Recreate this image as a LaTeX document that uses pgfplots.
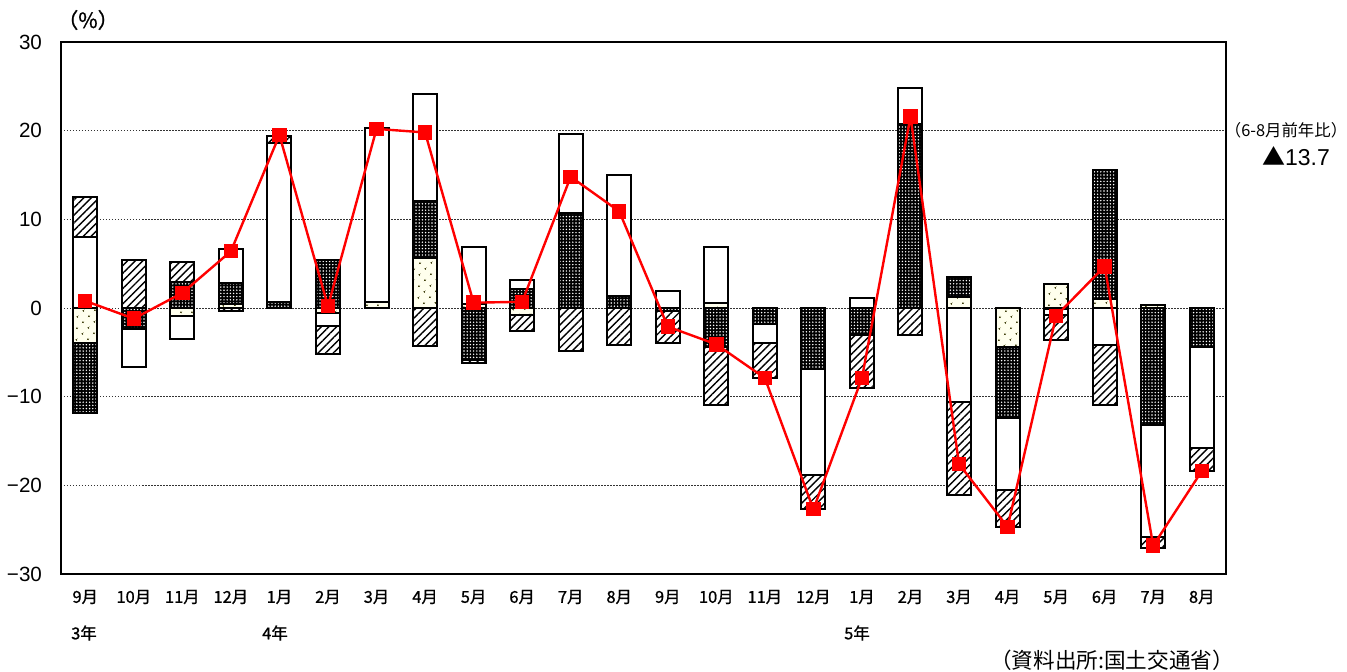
\documentclass[border=0pt]{standalone}
\usepackage{fontspec}
\setmainfont{Liberation Sans}
\newfontfamily\jp{Noto Sans CJK JP}
\newfontfamily\jpb[FakeBold=1]{Noto Sans CJK JP}
\usepackage{pgfplots}
\pgfplotsset{compat=1.18}
\usepackage{pgfplotstable}
\usetikzlibrary{patterns.meta}

\definecolor{ivory}{rgb}{1,1,0.93}
\definecolor{olivedot}{rgb}{0.25,0.25,0.05}
\definecolor{gridgray}{rgb}{0.2,0.2,0.2}

% A: light dots, B: dark dots, C: white, D: hatched, T: total (line)
\pgfplotstableread{
x  A     B      C      D      T
0  -4.0  -7.8   8.0    4.5    0.8
1  0     -2.4   -4.2   5.4    -1.2
2  -0.9  2.9    -2.6   2.3    1.7
3  0.4   2.4    3.8    -0.3   6.4
4  0     0.7    17.9   0.8    19.5
5  -0.6  5.4    -1.4   -3.2   0.2
6  0.7   0      19.6   0      20.2
7  5.6   6.5    12.0   -4.3   19.8
8  0.4   -5.9   6.5    -0.3   0.6
9  -0.8  2.1    1.1    -1.8   0.7
10 0     10.7   8.9    -4.8   14.8
11 0     1.4    13.6   -4.2   10.9
12 0     -0.3   1.9    -3.7   -2.1
13 0.6   -4.4   6.3    -6.5   -4.1
14 0     -1.8   -2.2   -3.9   -7.9
15 0     -6.9   -11.9  -3.9   -22.7
16 0     -3.1   1.1    -5.9   -7.9
17 0     20.8   4.0    -3.1   21.6
18 1.2   2.3    -10.6  -10.5  -17.6
19 -4.4  -8.0   -8.1   -4.2   -24.7
20 2.7   -0.1   -0.7   -2.8   -0.9
21 1.0   14.6   -4.2   -6.7   4.7
22 0.3   -13.2  -12.6  -1.3   -26.8
23 0     -4.4   -11.4  -2.6   -18.4
}\housing

\pgfplotsset{
  base/.style={
    width=582.5pt, height=266pt, scale only axis,
    xmin=-0.5, xmax=23.5, ymin=-30, ymax=30,
    at={(0,0)}, anchor=south west, clip=false,
  },
  barA/.style={draw=black, line width=1pt, fill=ivory,
    postaction={pattern={Dots[radius=0.55pt,distance=4pt,angle=45]}, pattern color=olivedot}},
  barB/.style={draw=black, line width=1pt, fill=black,
    postaction={pattern={Dots[radius=0.4pt,distance=1.6pt]}, pattern color=white}},
  barC/.style={draw=black, line width=1pt, fill=white},
  barD/.style={draw=black, line width=1pt, fill=white,
    postaction={pattern={Lines[angle=45,distance=2.7pt,line width=0.7pt]}, pattern color=black}},
}

\begin{document}
\begin{tikzpicture}
\useasboundingbox (-30.5pt,-48.5pt) rectangle (643pt,287pt);

% positive parts, with frame and grid
\begin{axis}[base,
  ybar stacked, bar width=12pt,
  axis line style={line width=1pt},
  major tick length=0pt,
  ytick={-30,-20,...,30},
  yticklabels={−30,−20,−10,0,10,20,30},
  yticklabel style={font=\fontsize{10.3}{12}\selectfont, anchor=east, xshift=-6pt},
  xtick={0,...,23},
  xticklabels={9月,10月,11月,12月,1月,2月,3月,4月,5月,6月,7月,8月,9月,10月,11月,12月,1月,2月,3月,4月,5月,6月,7月,8月},
  xticklabel style={font=\jpb\fontsize{8.2}{9}\selectfont, anchor=center, yshift=-11.5pt},
  ymajorgrids,
  grid style={gridgray, line width=0.5pt, dash pattern=on 0.75pt off 0.75pt},
]
\addplot[barA] table[x=x, y expr={max(\thisrow{A},0)}] {\housing};
\addplot[barB] table[x=x, y expr={max(\thisrow{B},0)}] {\housing};
\addplot[barC] table[x=x, y expr={max(\thisrow{C},0)}] {\housing};
\addplot[barD] table[x=x, y expr={max(\thisrow{D},0)}] {\housing};
\end{axis}

% negative parts
\begin{axis}[base, hide axis, ybar stacked, bar width=12pt]
\addplot[barA] table[x=x, y expr={min(\thisrow{A},0)}] {\housing};
\addplot[barB] table[x=x, y expr={min(\thisrow{B},0)}] {\housing};
\addplot[barC] table[x=x, y expr={min(\thisrow{C},0)}] {\housing};
\addplot[barD] table[x=x, y expr={min(\thisrow{D},0)}] {\housing};
\end{axis}

% total line
\begin{axis}[base, hide axis]
\addplot[red, line width=1.2pt, mark=square*, mark size=3pt,
  mark options={solid, fill=red, draw=red}] table[x=x, y=T] {\housing};
\end{axis}

\node[font=\jpb\fontsize{10.5}{11}\selectfont] at (13.5pt,277pt) {（\%）};
\node[font=\jp\fontsize{8.2}{9}\selectfont, inner sep=0pt] at (612.5pt,222pt) {（6-8月前年比）};
\node[font=\fontsize{11.5}{13}\selectfont, inner sep=0pt] at (617.5pt,209pt) {{\jp ▲}13.7};
\node[font=\jpb\fontsize{8.2}{9}\selectfont] at (11.5pt,-29.5pt) {3年};
\node[font=\jpb\fontsize{8.2}{9}\selectfont] at (107pt,-29.5pt) {4年};
\node[font=\jpb\fontsize{8.2}{9}\selectfont] at (398pt,-29.5pt) {5年};
\node[font=\jp\fontsize{10.8}{12}\selectfont] at (525.5pt,-43pt) {（資料出所:国土交通省）};
\end{tikzpicture}
\end{document}
